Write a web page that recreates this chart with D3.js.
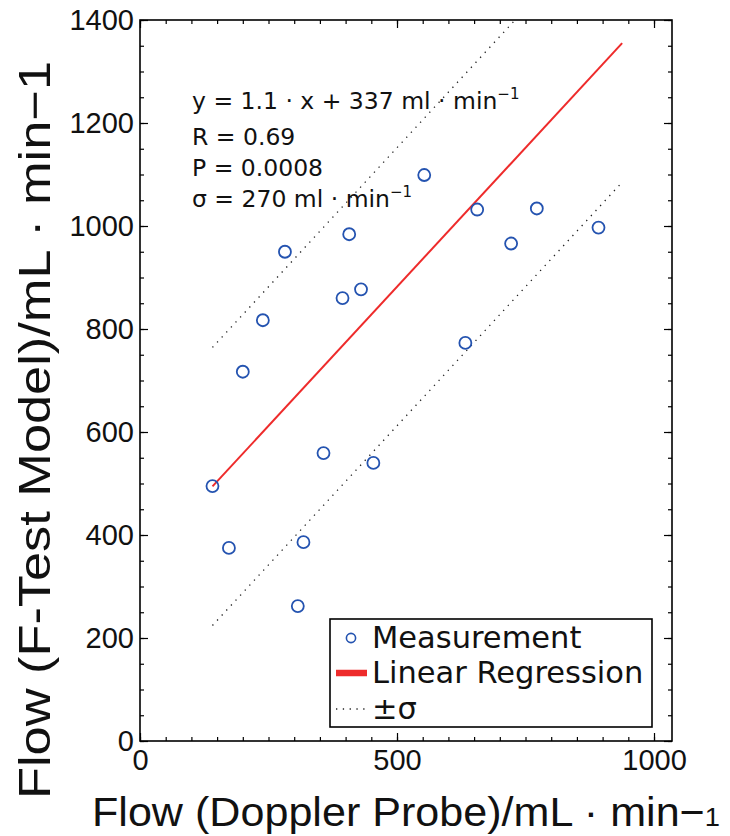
<!DOCTYPE html>
<html><head><meta charset="utf-8">
<script src="https://cdn.jsdelivr.net/npm/d3@7"></script>
<style>body{margin:0;background:#fff}</style>
</head><body><svg id="c" width="730" height="836"></svg>
<script>
// ---- data ----
const dopplerFlow = [141, 173, 200, 239, 282, 307, 318, 357, 394, 407, 430, 454, 553, 633, 656, 722, 772, 892];
const fTestFlow   = [495, 375, 717, 817, 950, 262, 386, 559, 860, 984, 877, 540, 1099, 773, 1032, 966, 1034, 997];
const xMajorTicks = [0, 500, 1000];
const yMajorTicks = [0, 200, 400, 600, 800, 1000, 1200, 1400];
const fitSlope = 1.08;
const fitIntercept = 342;
const fitSigma = 270;
const fitRange = [141, 938];
const annotationMain = ["y = 1.1 · x + 337 ml · min", "R = 0.69", "P = 0.0008", "σ = 270 ml · min"];
const annotationSup  = ["−1", "", "", "−1"];
const legendLabels = ["Measurement", "Linear Regression", "±σ"];
const xTitle = "Flow (Doppler Probe)/mL · min−";
const xTitleSub = "1";
const yTitle = "Flow (F-Test Model)/mL · min−1";

// ---- layout ----
const svg = d3.select("#c");
const L = 140, R = 672, T = 20, B = 741;
const x = d3.scaleLinear().domain([0, 1035]).range([L, R]);
const y = d3.scaleLinear().domain([0, 1400]).range([B, T]);
const xMinor = d3.range(0, 1036, 50);
const yMinor = d3.range(0, 1401, 50);
const tickFont = "'Liberation Sans', Arial, sans-serif";

svg.append("rect").attr("width", 730).attr("height", 836).attr("fill", "#fff");

function styleAxis(g) {
  g.select(".domain").remove();
  g.selectAll(".tick line").attr("stroke", "#000").attr("stroke-width", 1.2);
  g.selectAll(".tick text").attr("fill", "#111").style("font-family", tickFont).style("font-size", "29px");
}
// minor ticks
svg.append("g").attr("transform", `translate(0,${B})`).call(d3.axisBottom(x).tickValues(xMinor).tickSize(-4).tickFormat("")).call(styleAxis);
svg.append("g").attr("transform", `translate(0,${T})`).call(d3.axisTop(x).tickValues(xMinor).tickSize(-4).tickFormat("")).call(styleAxis);
svg.append("g").attr("transform", `translate(${L},0)`).call(d3.axisLeft(y).tickValues(yMinor).tickSize(-4).tickFormat("")).call(styleAxis);
svg.append("g").attr("transform", `translate(${R},0)`).call(d3.axisRight(y).tickValues(yMinor).tickSize(-4).tickFormat("")).call(styleAxis);
// major ticks
svg.append("g").attr("transform", `translate(0,${B})`).call(d3.axisBottom(x).tickValues(xMajorTicks).tickSize(-8).tickPadding(8).tickFormat(d3.format("d"))).call(styleAxis);
svg.append("g").attr("transform", `translate(0,${T})`).call(d3.axisTop(x).tickValues(xMajorTicks).tickSize(-8).tickFormat("")).call(styleAxis);
svg.append("g").attr("transform", `translate(${L},0)`).call(d3.axisLeft(y).tickValues(yMajorTicks).tickSize(-8).tickPadding(6).tickFormat(d3.format("d"))).call(styleAxis);
svg.append("g").attr("transform", `translate(${R},0)`).call(d3.axisRight(y).tickValues(yMajorTicks).tickSize(-8).tickFormat("")).call(styleAxis);

// frame
svg.append("rect").attr("x", L).attr("y", T).attr("width", R - L).attr("height", B - T)
  .attr("fill", "none").attr("stroke", "#000").attr("stroke-width", 1.6);

// clip
svg.append("clipPath").attr("id", "plot").append("rect").attr("x", L).attr("y", T).attr("width", R - L).attr("height", B - T);
const plot = svg.append("g").attr("clip-path", "url(#plot)");

const line = d3.line().x(d => x(d[0])).y(d => y(d[1]));
const fitPts = off => fitRange.map(v => [v, fitSlope * v + fitIntercept + off]);
[fitSigma, -fitSigma].forEach(off => {
  plot.append("path").attr("d", line(fitPts(off))).attr("fill", "none")
    .attr("stroke", "#222").attr("stroke-width", 1.3).attr("stroke-dasharray", "1.3 5.5");
});
plot.append("path").attr("d", line(fitPts(0))).attr("fill", "none")
  .attr("stroke", "#ee2b2b").attr("stroke-width", 2);

plot.selectAll("circle.m").data(dopplerFlow).join("circle").attr("class", "m")
  .attr("cx", d => x(d)).attr("cy", (d, i) => y(fTestFlow[i])).attr("r", 6)
  .attr("fill", "none").attr("stroke", "#2453b0").attr("stroke-width", 1.8);

// annotation
const annFont = "'DejaVu Sans', sans-serif";
const annBase = [109, 145, 176, 207];
annotationMain.forEach((t, i) => {
  const tx = svg.append("text").attr("x", 192).attr("y", annBase[i])
    .style("font-family", annFont).style("font-size", "23.5px").attr("fill", "#111");
  tx.append("tspan").text(t);
  if (annotationSup[i]) tx.append("tspan").attr("dy", -10).style("font-size", "15px").text(annotationSup[i]);
});

// legend
const lg = svg.append("g");
lg.append("rect").attr("x", 330).attr("y", 619).attr("width", 322).attr("height", 108)
  .attr("fill", "#fff").attr("stroke", "#000").attr("stroke-width", 1.6);
const legY = [638, 673, 709];
lg.append("circle").attr("cx", 351).attr("cy", legY[0]).attr("r", 4.6)
  .attr("fill", "none").attr("stroke", "#2453b0").attr("stroke-width", 1.6);
lg.append("line").attr("x1", 336).attr("x2", 367).attr("y1", legY[1]).attr("y2", legY[1])
  .attr("stroke", "#ee2b2b").attr("stroke-width", 6.5);
lg.append("line").attr("x1", 336).attr("x2", 367).attr("y1", legY[2]).attr("y2", legY[2])
  .attr("stroke", "#222").attr("stroke-width", 1.3).attr("stroke-dasharray", "1.3 5.5");
legendLabels.forEach((t, i) => {
  lg.append("text").attr("x", 372).attr("y", legY[i] + 10)
    .style("font-family", annFont).style("font-size", "30.5px").attr("fill", "#111").text(t);
});

// axis titles
const xt = svg.append("text").attr("x", 92).attr("y", 826)
  .style("font-family", tickFont).style("font-size", "41px").attr("fill", "#111")
  .attr("textLength", 628).attr("lengthAdjust", "spacingAndGlyphs");
xt.append("tspan").text(xTitle);
xt.append("tspan").style("font-size", "26px").text(xTitleSub);

svg.append("text").attr("transform", "translate(50,430) rotate(-90)")
  .attr("text-anchor", "middle")
  .style("font-family", tickFont).style("font-size", "45px").attr("fill", "#111")
  .attr("textLength", 738).attr("lengthAdjust", "spacingAndGlyphs")
  .text(yTitle);
</script></body></html>
